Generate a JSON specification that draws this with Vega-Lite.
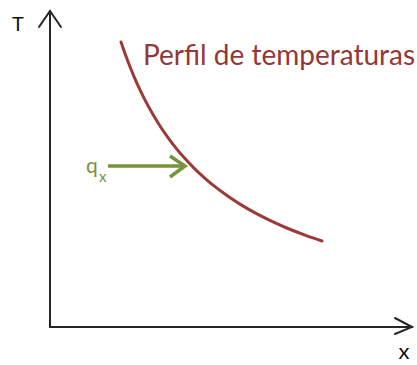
{
  "$schema": "https://vega.github.io/schema/vega-lite/v6.json",
  "width": 417,
  "height": 365,
  "autosize": {"type": "fit", "contains": "padding"},
  "padding": 0,
  "background": "white",
  "config": {"view": {"stroke": null}},
  "datasets": {
    "axes": [
      {"seg": "vertical", "x": 0, "T": 0, "o": 0},
      {"seg": "vertical", "x": 0, "T": 316, "o": 1},
      {"seg": "vhead", "x": -11, "T": 300, "o": 0},
      {"seg": "vhead", "x": 0, "T": 316, "o": 1},
      {"seg": "vhead", "x": 11, "T": 300, "o": 2},
      {"seg": "horizontal", "x": 0, "T": 0, "o": 0},
      {"seg": "horizontal", "x": 362, "T": 0, "o": 1},
      {"seg": "hhead", "x": 345, "T": 9, "o": 0},
      {"seg": "hhead", "x": 362, "T": 0, "o": 1},
      {"seg": "hhead", "x": 345, "T": -7, "o": 2}
    ],
    "profile": [
      {"x": 71, "T": 285}, {"x": 75, "T": 273.4}, {"x": 80, "T": 260.2},
      {"x": 85, "T": 248.2}, {"x": 90, "T": 237.2}, {"x": 96, "T": 225.1},
      {"x": 102, "T": 214.2}, {"x": 110, "T": 201}, {"x": 118, "T": 189.4},
      {"x": 126, "T": 178.9}, {"x": 135, "T": 168.4}, {"x": 145, "T": 157.9},
      {"x": 155, "T": 148.7}, {"x": 165, "T": 140.3}, {"x": 178, "T": 130.7},
      {"x": 192, "T": 121.6}, {"x": 206, "T": 113.6}, {"x": 222, "T": 105.6},
      {"x": 238, "T": 98.5}, {"x": 255, "T": 91.9}, {"x": 272, "T": 86}
    ],
    "flux": [
      {"seg": "shaft", "x": 58, "T": 161, "o": 0},
      {"seg": "shaft", "x": 135, "T": 161, "o": 1},
      {"seg": "head", "x": 120, "T": 171, "o": 0},
      {"seg": "head", "x": 135, "T": 161, "o": 1},
      {"seg": "head", "x": 120, "T": 150, "o": 2}
    ]
  },
  "encoding": {
    "x": {"field": "x", "type": "quantitative", "scale": {"domain": [-50, 367], "nice": false, "zero": false}, "axis": null},
    "y": {"field": "T", "type": "quantitative", "scale": {"domain": [-38, 327], "nice": false, "zero": false}, "axis": null}
  },
  "layer": [
    {
      "data": {"name": "axes"},
      "mark": {"type": "line", "color": "#262626", "strokeWidth": 2, "strokeCap": "round", "strokeJoin": "miter"},
      "encoding": {"detail": {"field": "seg"}, "order": {"field": "o"}}
    },
    {
      "data": {"name": "profile"},
      "mark": {"type": "line", "color": "#9B3A38", "strokeWidth": 3, "interpolate": "monotone", "strokeCap": "round"},
      "encoding": {}
    },
    {
      "data": {"name": "flux"},
      "mark": {"type": "line", "color": "#77933C", "strokeWidth": 3.5, "strokeCap": "butt", "strokeJoin": "miter"},
      "encoding": {"detail": {"field": "seg"}, "order": {"field": "o"}}
    },
    {
      "data": {"values": [{"label": "T", "x": -32, "T": 296}]},
      "mark": {"type": "text", "font": "Lato", "fontSize": 20, "color": "#111111", "align": "center", "baseline": "alphabetic"},
      "encoding": {"text": {"field": "label"}}
    },
    {
      "data": {"values": [{"label": "x", "x": 354, "T": -32}]},
      "mark": {"type": "text", "font": "Lato", "fontSize": 22, "color": "#111111", "align": "center", "baseline": "alphabetic"},
      "encoding": {"text": {"field": "label"}}
    },
    {
      "data": {"values": [{"label": "Perfil de temperaturas", "x": 93, "T": 262}]},
      "mark": {"type": "text", "font": "Lato", "fontSize": 28, "color": "#953735", "align": "left", "baseline": "alphabetic"},
      "encoding": {"text": {"field": "label"}}
    },
    {
      "data": {"values": [{"label": "q", "x": 36, "T": 154}]},
      "mark": {"type": "text", "font": "Lato", "fontSize": 21, "color": "#77933C", "align": "left", "baseline": "alphabetic"},
      "encoding": {"text": {"field": "label"}}
    },
    {
      "data": {"values": [{"label": "x", "x": 49, "T": 145}]},
      "mark": {"type": "text", "font": "Lato", "fontSize": 15, "color": "#77933C", "align": "left", "baseline": "alphabetic"},
      "encoding": {"text": {"field": "label"}}
    }
  ]
}
